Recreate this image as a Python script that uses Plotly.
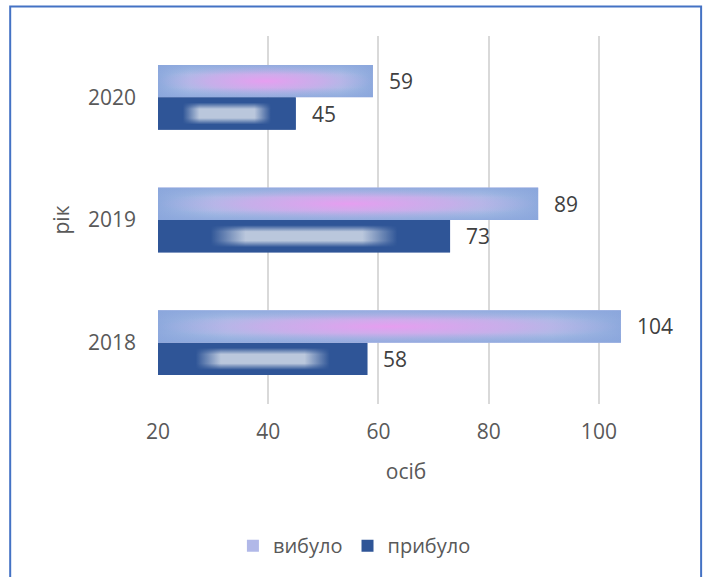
import base64
import plotly.graph_objects as go

# ---- data ----
years = [2018, 2019, 2020]
left_people = [104, 89, 59]      # вибуло
arrived_people = [58, 73, 45]    # прибуло
series_names = ["вибуло", "прибуло"]
x_ticks = [20, 40, 60, 80, 100]
x_title = "осіб"
y_title = "рік"

# ---- style ----
FONT = "Open Sans"
TXT = "#595959"
LBL = "#404040"
C_LEFT = "#b1b8e8"
C_ARR = "#2f5597"
BARGAP = 0.472
X_MIN, X_MAX = 20, 110


def svg_uri(svg):
    return "data:image/svg+xml;base64," + base64.b64encode(svg.encode()).decode()


SVG_LEFT = svg_uri(
    "<svg xmlns='http://www.w3.org/2000/svg' width='200' height='40' viewBox='0 0 200 40' preserveAspectRatio='none'>"
    "<defs>"
    "<linearGradient id='h' x1='0' y1='0' x2='1' y2='0'>"
    "<stop offset='0' stop-color='#8ea9dd'/><stop offset='0.15' stop-color='#a8bde5'/>"
    "<stop offset='0.5' stop-color='#b9bde8'/><stop offset='0.85' stop-color='#a8bde5'/>"
    "<stop offset='1' stop-color='#8ea9dd'/></linearGradient>"
    "<radialGradient id='r' cx='0.5' cy='0.5' r='0.5'>"
    "<stop offset='0' stop-color='#e69ef0' stop-opacity='1'/>"
    "<stop offset='0.55' stop-color='#d6a6ec' stop-opacity='0.6'/>"
    "<stop offset='1' stop-color='#c0b0ea' stop-opacity='0'/></radialGradient>"
    "<linearGradient id='v' x1='0' y1='0' x2='0' y2='1'>"
    "<stop offset='0' stop-color='#8aa6dc' stop-opacity='0.8'/>"
    "<stop offset='0.3' stop-color='#8aa6dc' stop-opacity='0'/>"
    "<stop offset='0.7' stop-color='#8aa6dc' stop-opacity='0'/>"
    "<stop offset='1' stop-color='#8aa6dc' stop-opacity='0.8'/></linearGradient>"
    "</defs>"
    "<rect width='200' height='40' fill='url(#h)'/>"
    "<rect width='200' height='40' fill='url(#r)'/>"
    "<rect width='200' height='40' fill='url(#v)'/>"
    "</svg>"
)

SVG_ARR = svg_uri(
    "<svg xmlns='http://www.w3.org/2000/svg' width='200' height='40' viewBox='0 0 200 40' preserveAspectRatio='none'>"
    "<defs>"
    "<linearGradient id='h' x1='0' y1='0' x2='1' y2='0'>"
    "<stop offset='0.18' stop-color='#bac7dc' stop-opacity='0'/>"
    "<stop offset='0.3' stop-color='#bac7dc' stop-opacity='1'/>"
    "<stop offset='0.7' stop-color='#bac7dc' stop-opacity='1'/>"
    "<stop offset='0.82' stop-color='#bac7dc' stop-opacity='0'/></linearGradient>"
    "<linearGradient id='vm' x1='0' y1='0' x2='0' y2='1'>"
    "<stop offset='0.16' stop-color='black'/><stop offset='0.36' stop-color='white'/>"
    "<stop offset='0.64' stop-color='white'/><stop offset='0.84' stop-color='black'/></linearGradient>"
    "<mask id='m'><rect width='200' height='40' fill='url(#vm)'/></mask>"
    "</defs>"
    "<rect width='200' height='40' fill='#2f5597'/>"
    "<rect width='200' height='40' fill='url(#h)' mask='url(#m)'/>"
    "</svg>"
)

fig = go.Figure()
fig.add_trace(go.Bar(
    y=years, x=arrived_people, orientation="h", name=series_names[1],
    marker=dict(color=C_ARR, line=dict(width=0)), legendrank=2,
    hoverinfo="x+name",
))
fig.add_trace(go.Bar(
    y=years, x=left_people, orientation="h", name=series_names[0],
    marker=dict(color=C_LEFT, line=dict(width=0)), legendrank=1,
    hoverinfo="x+name",
))

bar_h = (1 - BARGAP) / 2
images = []
annotations = []
for yr, v_left, v_arr in zip(years, left_people, arrived_people):
    # gradient fills laid over each bar, spanning its visible part
    images.append(dict(source=SVG_LEFT, xref="x", yref="y", x=X_MIN, y=yr + bar_h,
                       sizex=v_left - X_MIN, sizey=bar_h, sizing="stretch",
                       xanchor="left", yanchor="top", layer="above"))
    images.append(dict(source=SVG_ARR, xref="x", yref="y", x=X_MIN, y=yr,
                       sizex=v_arr - X_MIN, sizey=bar_h, sizing="stretch",
                       xanchor="left", yanchor="top", layer="above"))
    annotations.append(dict(x=v_left, y=yr + bar_h / 2, text=str(v_left), showarrow=False,
                            xanchor="left", xshift=14, font=dict(size=21, color=LBL, family=FONT)))
    annotations.append(dict(x=v_arr, y=yr - bar_h / 2, text=str(v_arr), showarrow=False,
                            xanchor="left", xshift=14, font=dict(size=21, color=LBL, family=FONT)))

fig.update_layout(
    width=704, height=577,
    margin=dict(l=158, r=50, t=36, b=173, autoexpand=False),
    paper_bgcolor="white", plot_bgcolor="white",
    barmode="group", bargap=BARGAP, bargroupgap=0,
    font=dict(family=FONT, size=21, color=TXT),
    showlegend=True,
    legend=dict(orientation="h", x=0.396, xanchor="center", y=-0.385, yanchor="middle",
                font=dict(size=20, color=TXT), itemwidth=30, traceorder="normal"),
    images=images,
    annotations=annotations,
    shapes=[dict(type="rect", xref="paper", yref="paper", x0=-0.298, x1=1.095,
                 y0=-0.7, y1=1.08, line=dict(color="#4472c4", width=2),
                 fillcolor="rgba(0,0,0,0)", layer="above")],
)
fig.update_xaxes(
    range=[X_MIN, X_MAX], tickvals=x_ticks, showgrid=True, gridcolor="#d9d9d9", gridwidth=1.5,
    zeroline=False, showline=False, ticks="", ticklabelstandoff=13,
    tickfont=dict(size=21, color=TXT),
    title=dict(text=x_title, font=dict(size=21, color=TXT), standoff=20),
)
fig.update_yaxes(
    range=[2017.5, 2020.5], tickvals=years, tickformat="d", showgrid=False,
    zeroline=False, showline=False, ticks="", ticklabelstandoff=21,
    tickfont=dict(size=21, color=TXT),
    title=dict(text=y_title, font=dict(size=21, color=TXT), standoff=12),
)

fig.write_html(
    "out.html",
    config={"displayModeBar": False},
    post_script="document.body.style.margin='0';document.body.style.overflow='hidden';",
)
